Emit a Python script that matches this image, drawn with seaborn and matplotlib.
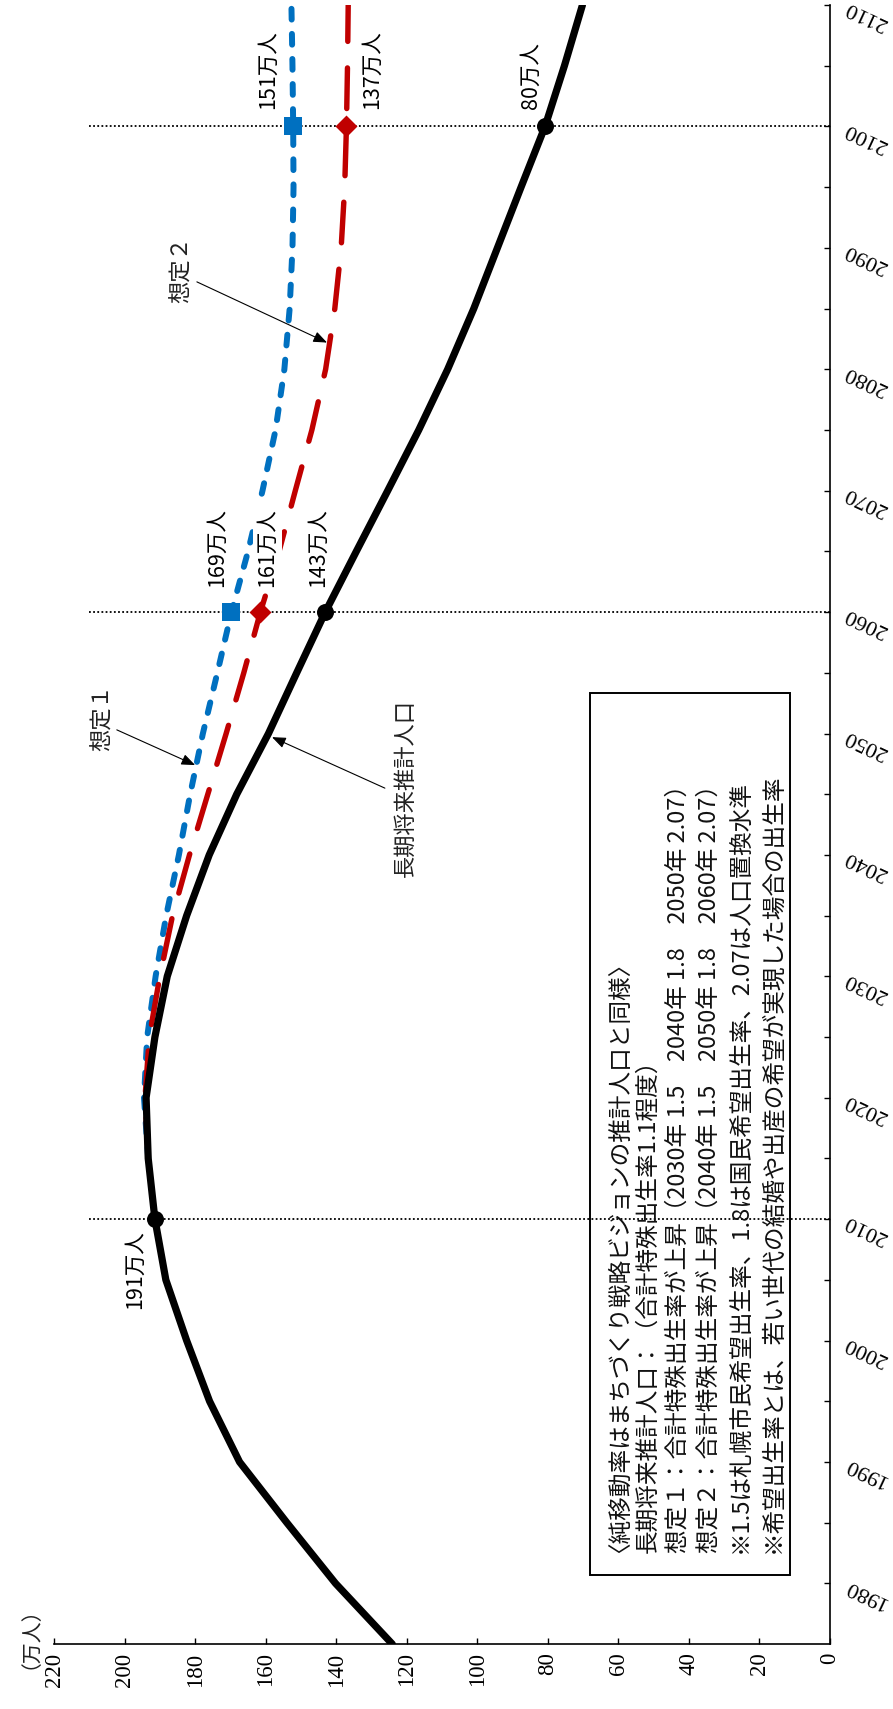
import numpy as np
import pandas as pd
import seaborn as sns
import matplotlib.pyplot as plt
from matplotlib.patches import Rectangle
from matplotlib.ticker import FixedLocator
from matplotlib.transforms import ScaledTranslation

sns.set_theme(style="white")
plt.rcParams["font.family"] = ["Noto Sans CJK JP", "DejaVu Sans"]

# ---------------- data ----------------
years_base = list(range(1975, 2111, 5))
pop_base = [124.1, 140.2, 154.0, 167.4, 175.9, 182.4, 188.3, 191.4,
            193.3, 193.9, 191.4, 187.9, 182.4, 176.0, 168.2, 159.2,
            151.2, 143.1, 134.3, 125.4, 116.6, 108.4, 101.0, 94.3,
            87.6, 80.8, 75.3, 70.2]

years_scn = list(range(2015, 2111, 5))
pop_scn1 = [193.3, 194.5, 193.6, 191.2, 188.2, 184.6, 181.4, 177.8,
            173.7, 169.7, 165.0, 160.9, 157.2, 154.7, 153.2, 152.4,
            152.1, 152.2, 152.4, 152.7]
pop_scn2 = [193.3, 194.2, 193.0, 190.0, 186.4, 181.6, 176.4, 171.2,
            166.2, 161.5, 156.2, 151.6, 146.9, 143.0, 140.4, 138.6,
            137.6, 137.1, 136.8, 136.6]

mark_years = [2010, 2060, 2100]
pop_ticks = list(range(0, 221, 20))
year_ticks = list(range(1980, 2111, 10))
year_minor = list(range(1985, 2110, 10))

value_labels = ["191万人", "169万人", "161万人", "143万人", "151万人", "137万人", "80万人"]
series_labels = ["想定１", "想定２", "長期将来推計人口"]
note_lines = [
    "〈純移動率はまちづくり戦略ビジョンの推計人口と同様〉",
    "長期将来推計人口：（合計特殊出生率1.1程度）",
    "想定１：合計特殊出生率が上昇（2030年 1.5　2040年 1.8　2050年 2.07）",
    "想定２：合計特殊出生率が上昇（2040年 1.5　2050年 1.8　2060年 2.07）",
    "※1.5は札幌市民希望出生率、1.8は国民希望出生率、2.07は人口置換水準",
    "※希望出生率とは、若い世代の結婚や出産の希望が実現した場合の出生率",
]
unit_label = "（万人）"

base = pd.DataFrame({"year": years_base, "pop": pop_base})
scn = pd.DataFrame({"year": years_scn, "s1": pop_scn1, "s2": pop_scn2})

BLUE = "#0070C0"
RED = "#C00000"

# ---------------- figure ----------------
fig = plt.figure(figsize=(8.93, 17.09), dpi=100)
ax = fig.add_axes([0.0605, 0.0380, 0.8690, 0.95904])

# reference dotted lines
ax.hlines(mark_years, 0, 210, colors="black", linestyles=(0, (1, 1.3)), lw=1.3, zorder=1)

sns.lineplot(x=scn["s1"], y=scn["year"], sort=False, estimator=None, ax=ax,
             color=BLUE, lw=4.3, linestyle=(0, (1.8, 2.4)), dash_capstyle="round", zorder=2)
sns.lineplot(x=scn["s2"], y=scn["year"], sort=False, estimator=None, ax=ax,
             color=RED, lw=3.9, linestyle=(0, (7.5, 4.9)), dash_capstyle="round", zorder=2)
sns.lineplot(x=base["pop"], y=base["year"], sort=False, estimator=None, ax=ax,
             color="black", lw=5.2, zorder=3)

bm = base[base["year"].isin(mark_years)]
sm = scn[scn["year"].isin(mark_years)]
sns.scatterplot(x=bm["pop"], y=bm["year"], marker="o", s=150, color="black",
                linewidth=0, ax=ax, zorder=5)
sns.scatterplot(x=sm["s1"], y=sm["year"], marker="s", s=169, color=BLUE,
                linewidth=0, ax=ax, zorder=5)
sns.scatterplot(x=sm["s2"], y=sm["year"], marker="D", s=125, color=RED,
                linewidth=0, ax=ax, zorder=5)

ax.set_xlim(220, 0)
ax.set_ylim(1975, 2110)
ax.set_xlabel("")
ax.set_ylabel("")

# ---------------- axes styling ----------------
for s in ["left", "top"]:
    ax.spines[s].set_visible(False)
for s in ["right", "bottom"]:
    ax.spines[s].set_color("black")
    ax.spines[s].set_linewidth(1.2)

ax.set_xticks(pop_ticks)
ax.set_yticks(year_ticks)
ax.yaxis.set_minor_locator(FixedLocator(year_minor))
ax.yaxis.tick_right()
ax.tick_params(axis="x", which="both", bottom=True, direction="in", length=4.5,
               width=1, colors="black", pad=6)
ax.tick_params(axis="y", which="both", right=True, left=False, labelright=True,
               labelleft=False, direction="in", length=4.5, width=1, colors="black", pad=26)

for lbl in ax.get_xticklabels():
    lbl.set_fontfamily("Liberation Serif")
    lbl.set_fontsize(16.5)
    lbl.set_rotation(90)

off = ScaledTranslation(0, -10 / 100, fig.dpi_scale_trans)
for lbl in ax.get_yticklabels():
    lbl.set_fontfamily("Liberation Serif")
    lbl.set_fontsize(16)
    lbl.set_rotation(155)
    lbl.set_rotation_mode("anchor")
    lbl.set_ha("center")
    lbl.set_va("center")
    lbl.set_transform(lbl.get_transform() + off)

# ---------------- value labels ----------------
lab_kw = dict(rotation=90, rotation_mode="anchor", va="center", fontsize=15.5, color="black", zorder=6)
ax.text(197.1, 2009.1, value_labels[0], ha="right", **lab_kw)
ax.text(173.8, 2062.1, value_labels[1], ha="left", **lab_kw)
ax.text(159.6, 2062.1, value_labels[2], ha="left",
        bbox=dict(facecolor="white", edgecolor="none", pad=2.5), **lab_kw)
ax.text(145.2, 2062.1, value_labels[3], ha="left", **lab_kw)
ax.text(159.3, 2101.4, value_labels[4], ha="left", **lab_kw)
ax.text(129.9, 2101.4, value_labels[5], ha="left", **lab_kw)
ax.text(84.8, 2101.4, value_labels[6], ha="left", **lab_kw)

# ---------------- series labels with arrows ----------------
arr = dict(arrowstyle="-|>,head_length=0.55,head_width=0.22", color="black",
           lw=0.8, mutation_scale=15, shrinkA=0, shrinkB=0)
ser_kw = dict(rotation=90, ha="center", va="center", fontsize=16, color="#222222")
ax.text(206.4, 2051.3, series_labels[0], **ser_kw)
ax.annotate("", xy=(180.0, 2047.4), xytext=(202.2, 2050.3), arrowprops=arr)
ax.text(184.0, 2088.2, series_labels[1], **ser_kw)
ax.annotate("", xy=(142.6, 2082.2), xytext=(179.5, 2087.2), arrowprops=arr)
ax.text(120.5, 2045.5, series_labels[2], **ser_kw)
ax.annotate("", xy=(158.2, 2049.7), xytext=(126.2, 2045.5), arrowprops=arr)

# ---------------- note box ----------------
ax.add_patch(Rectangle((0.6907, 0.0421), 0.2578, 0.5381, transform=ax.transAxes,
                       fill=False, lw=1.4, ec="black", zorder=4))
note_x = [0.7230, 0.7732, 0.8119, 0.8531, 0.8930, 0.9343]
for xf, line in zip(note_x, note_lines):
    ax.text(xf, 0.0555, line, transform=ax.transAxes, rotation=90,
            rotation_mode="anchor", ha="left", va="baseline", fontsize=17,
            color="#111111", zorder=5)

ax.text(-0.0443, 0.0105, unit_label, transform=ax.transAxes, rotation=90,
        ha="center", va="center", fontsize=15, color="#222222")

fig.savefig("out.png", dpi=100, facecolor="white")
